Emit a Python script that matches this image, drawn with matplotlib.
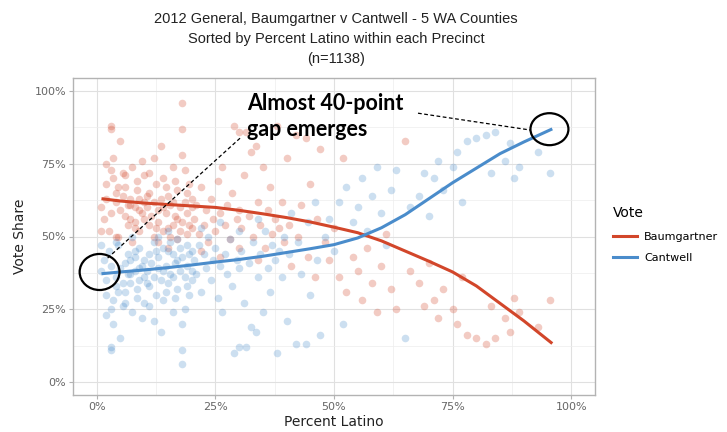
import matplotlib
matplotlib.use("Agg")
import matplotlib.pyplot as plt
from matplotlib.lines import Line2D
from matplotlib.patches import Ellipse
from matplotlib.ticker import FuncFormatter, MultipleLocator

# precinct data: (pct latino, cantwell %, baumgartner %)
pct_latino = [
    1, 1.5, 2, 2, 2.5, 3, 3, 3, 3.5, 4, 4, 4.5, 5, 5, 5.5, 6, 6, 6.5, 7, 7, 7.5, 8, 8, 8.5, 9, 9, 9.5, 10, 10,
    2, 3.5, 4, 5.5, 6.5, 7.5, 8.5, 9.5, 1, 10, 4.5, 3, 6, 8, 9, 7,
    10.5, 11, 11, 11.5, 12, 12, 12.5, 13, 13, 13.5, 13.5, 14, 14, 14.5, 15, 15, 15.5, 16, 16, 16.5, 17, 17,
    17.5, 18, 18, 18, 18.5, 18.5, 19, 19, 19.5, 20, 20, 11, 12, 13, 14, 15, 16, 17, 19, 12.5, 14.5, 15.5,
    16.5, 17.5, 18, 19.5, 20, 10.5,
    20.5, 21, 21.5, 22, 22.5, 23, 23.5, 24, 24.5, 25, 25.5, 26, 26.5, 27, 27.5, 28, 28.5, 29, 29.5, 30, 30,
    30.5, 31, 31.5, 32, 32.5, 33, 33.5, 34, 34.5, 35, 35.5, 36, 36.5, 37, 37.5, 38, 38.5, 39, 39.5, 40,
    22, 26, 30, 34,
    40.5, 41, 42, 42.5, 43, 44, 44.5, 45, 46, 46.5, 47, 48, 49, 50, 51, 52, 52.5, 54, 55, 56, 57, 58, 59,
    60, 61, 62, 63, 65, 66, 68, 69, 70, 71, 72, 73, 75, 76, 77, 78,
    80, 82, 83, 84, 86, 87, 88, 89, 93, 95.5,
]
cantwell = [
    38, 42, 35, 30, 45, 11, 12, 40, 28, 36, 33, 47, 39, 15, 26, 41, 31, 44, 37, 34, 24, 43, 38, 29, 46, 35, 40, 27, 42,
    23, 20, 48, 34, 37, 50, 32, 22, 47, 36, 31, 25, 27, 45, 39, 42,
    38, 44, 33, 41, 36, 48, 30, 43, 39, 17, 35, 46, 28, 40, 52, 34, 37, 44, 24, 41, 49, 32,
    38, 6, 11, 43, 25, 36, 47, 40, 30, 45, 35, 26, 21, 50, 38, 45, 36, 42, 33, 45, 31, 48,
    29, 46, 20, 44, 38, 34,
    42, 37, 47, 31, 44, 39, 50, 35, 42, 46, 29, 40, 24, 44, 37, 49, 33, 10, 42, 12, 39,
    45, 27, 12, 41, 19, 48, 17, 36, 44, 24, 52, 39, 31, 47, 42, 10, 45, 36, 50, 21,
    53, 55, 52, 56,
    44, 58, 13, 48, 37, 13, 55, 30, 62, 42, 16, 50, 56, 45, 62, 20, 67, 55, 60, 70, 52, 64, 74,
    58, 47, 66, 73, 15, 60, 64, 72, 57, 70, 76, 66, 74, 79, 62, 83,
    84, 85, 72, 86, 76, 82, 70, 74, 79, 72,
]
baumgartner = [
    60, 56, 63, 68, 52, 88, 87, 58, 70, 62, 65, 50, 59, 83, 72, 57, 67, 54, 61, 63, 74, 55, 60, 69, 52, 63, 58, 71, 56,
    75, 77, 50, 64, 61, 48, 66, 76, 52, 62, 67, 73, 71, 53, 59, 56,
    60, 54, 65, 57, 62, 50, 68, 55, 59, 81, 63, 52, 70, 58, 46, 64, 61, 54, 74, 57, 49, 66,
    60, 96, 87, 55, 73, 62, 51, 58, 68, 53, 63, 72, 77, 48, 60, 53, 62, 56, 65, 53, 67, 50,
    69, 52, 78, 54, 60, 64,
    56, 61, 51, 67, 54, 59, 48, 63, 56, 52, 69, 58, 74, 54, 61, 49, 65, 88, 56, 86, 59,
    53, 71, 86, 57, 79, 50, 81, 62, 54, 74, 46, 59, 67, 51, 56, 88, 53, 62, 48, 77,
    45, 43, 46, 42,
    54, 40, 85, 50, 61, 84, 43, 68, 36, 56, 80, 48, 42, 53, 36, 77, 31, 43, 38, 28, 46, 34, 24,
    40, 51, 32, 25, 83, 38, 34, 26, 41, 28, 22, 32, 25, 20, 36, 16,
    15, 13, 26, 15, 22, 17, 29, 24, 19, 28,
]

# loess curves
smooth_x = [1, 5, 10, 15, 20, 25, 30, 35, 40, 45, 50, 55, 60, 65, 70, 75, 80, 85, 90, 96]
smooth_baum = [63, 62.2, 61.5, 61, 60.5, 60, 59, 57.8, 56.5, 55, 53.2, 51.3, 48.5, 45, 41.5, 37.8, 33, 27, 21, 13.2]
smooth_cant = [37.2, 37.8, 38.5, 39.3, 40.2, 41.2, 42.1, 43.2, 44.5, 45.8, 47.2, 49.5, 53, 57.5, 63, 68.5, 73.5, 78.5, 82.5, 87]

RED = "#D2462A"
BLUE = "#4A8CCB"

fig = plt.figure(figsize=(7.27, 4.32), dpi=100)
ax = fig.add_axes([73 / 727, 37 / 432, 522 / 727, 317 / 432])

xs = [v / 100 for v in pct_latino]
ax.scatter(xs, [v / 100 for v in baumgartner], s=30, color=RED, alpha=0.28, linewidths=0, zorder=2)
ax.scatter(xs, [v / 100 for v in cantwell], s=30, color=BLUE, alpha=0.28, linewidths=0, zorder=2)

sx = [v / 100 for v in smooth_x]
ax.plot(sx, [v / 100 for v in smooth_baum], color=RED, lw=2.2, zorder=3, solid_capstyle="butt")
ax.plot(sx, [v / 100 for v in smooth_cant], color=BLUE, lw=2.2, zorder=3, solid_capstyle="butt")

ax.set_xlim(-0.05, 1.05)
ax.set_ylim(-0.045, 1.045)
pct = FuncFormatter(lambda v, p: f"{v * 100:.0f}%")
for axis in (ax.xaxis, ax.yaxis):
    axis.set_major_locator(MultipleLocator(0.25))
    axis.set_minor_locator(MultipleLocator(0.125))
    axis.set_major_formatter(pct)
ax.grid(which="major", color="#E0E0E0", lw=0.8, zorder=0)
ax.grid(which="minor", color="#EDEDED", lw=0.5, zorder=0)
ax.tick_params(which="major", length=3, pad=2, color="#B3B3B3", labelcolor="#666666", labelsize=8)
ax.tick_params(which="minor", length=0)
for sp in ax.spines.values():
    sp.set_color("#B3B3B3")
    sp.set_linewidth(1.0)

ax.set_xlabel("Percent Latino", fontsize=10, color="#222222", labelpad=2)
ax.set_ylabel("Vote Share", fontsize=10, color="#222222", labelpad=5)

title = ("2012 General, Baumgartner v Cantwell - 5 WA Counties\n"
         "Sorted by Percent Latino within each Precinct\n(n=1138)")
fig.text(336 / 727, 1 - 12 / 432, title, ha="center", va="top", fontsize=10.5,
         color="#222222", linespacing=1.55, family="Liberation Sans")

# annotation
ax.text(0.316, 0.995, "Almost 40-point\ngap emerges", ha="left", va="top", fontsize=15.5,
        fontweight="bold", family="Lato", color="black", linespacing=1.35, zorder=5)
ax.plot([0.302, 0.023], [0.838, 0.426], ls=(0, (3, 2)), color="black", lw=0.9, zorder=5)
ax.plot([0.677, 0.914], [0.924, 0.866], ls=(0, (3, 2)), color="black", lw=0.9, zorder=5)
ax.add_patch(Ellipse((0.006, 0.378), 0.084, 0.124, fill=False, ec="black", lw=1.6, zorder=5))
ax.add_patch(Ellipse((0.954, 0.869), 0.080, 0.110, fill=False, ec="black", lw=1.6, zorder=5))

handles = [Line2D([], [], color=RED, lw=2.2), Line2D([], [], color=BLUE, lw=2.2)]
leg = fig.legend(handles, ["Baumgartner", "Cantwell"], title="Vote", loc="upper left",
                 bbox_to_anchor=(603 / 727, 1 - 196 / 432), frameon=False, fontsize=8,
                 title_fontsize=10, handlelength=2.2, handletextpad=0.6, labelspacing=1.05)
leg._legend_box.align = "left"

fig.savefig("out.png", dpi=100)
